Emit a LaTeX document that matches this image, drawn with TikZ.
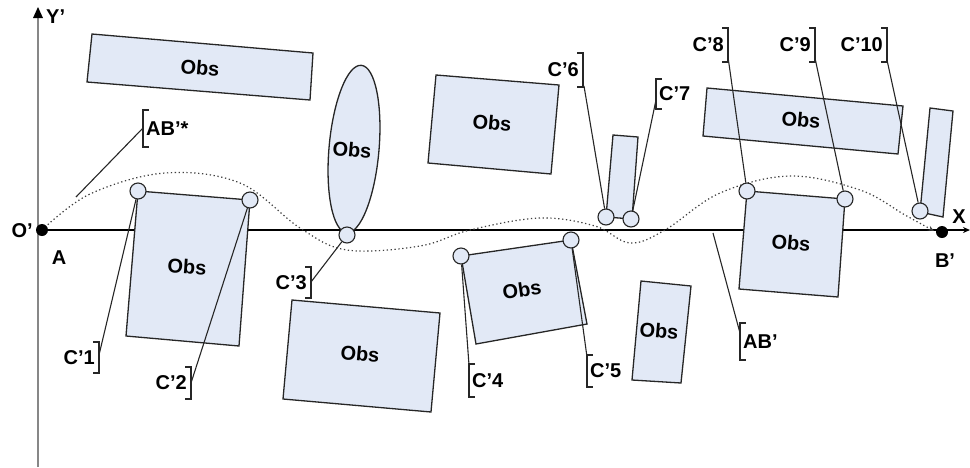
\documentclass[tikz,border=0pt]{standalone}
\usepackage{fontspec}
\setmainfont{Liberation Sans}
\usetikzlibrary{arrows.meta}
\definecolor{obsfill}{RGB}{226,233,246}
\definecolor{axisgray}{RGB}{135,135,135}

\begin{document}
\begin{tikzpicture}[x=1pt,y=-1pt,>=Stealth,
    obs/.style={draw=black!85,fill=obsfill,line width=1.3pt},
    obstxt/.style={font=\bfseries\fontsize{20}{20}\selectfont,inner sep=0pt},
    lbl/.style={font=\bfseries\fontsize{20}{20}\selectfont,inner sep=1pt},
    pt/.style={circle,draw=black!85,fill=obsfill,line width=1.1pt,minimum size=16pt,inner sep=0pt},
    lead/.style={line width=1.1pt,black!85}]
    \useasboundingbox (0,0) rectangle (970,467);

    % axes
    \draw[axisgray,line width=2pt] (38,467) -- (38,14);
    \fill[black] (33,18) -- (38,7) -- (43,18) -- cycle;
    \node[lbl,right] (ylab) at (45,17) {Y’};
    \draw[line width=1.3pt,-{Stealth[length=7pt,width=6pt]}] (42,230) -- (970,230);
    \node[lbl] (xlab) at (959,217) {X};

    % obstacles
    \draw[obs] (92,34) -- (313,53) -- (310,100) -- (87,82) -- cycle;
    \node[obstxt,rotate=-5] (obs1) at (200,68) {Obs};
    \draw[obs] (138,191) -- (250,200) -- (239,346) -- (126,336) -- cycle;
    \node[obstxt,rotate=-4] (obs2) at (187,267) {Obs};
    \draw[obs,rotate around={-5:(354,149)}] (354,149) ellipse (25 and 84);
    \node[obstxt,rotate=-5] (obs3) at (352,150) {Obs};
    \draw[obs] (436,75) -- (559,85) -- (551,174) -- (428,163) -- cycle;
    \node[obstxt,rotate=-5] (obs4) at (492,123) {Obs};
    \draw[obs] (292,300) -- (440,313) -- (431,412) -- (283,399) -- cycle;
    \node[obstxt,rotate=-5] (obs5) at (360,354) {Obs};
    \draw[obs] (461,256) -- (571,240) -- (587,324) -- (476,344) -- cycle;
    \node[obstxt,rotate=8] (obs6) at (522,290) {Obs};
    \draw[obs] (641,281) -- (691,286) -- (681,383) -- (632,380) -- cycle;
    \node[obstxt,rotate=-5] (obs7) at (659,331) {Obs};
    \draw[obs] (613,135) -- (638,137) -- (632,219) -- (606,217) -- cycle;
    \draw[obs] (707,88) -- (903,106) -- (898,154) -- (703,136) -- cycle;
    \node[obstxt,rotate=-5] (obs9) at (801,120) {Obs};
    \draw[obs] (930,108) -- (953,111) -- (943,217) -- (920,212) -- cycle;
    \draw[obs] (747,191) -- (845,199) -- (838,297) -- (739,289) -- cycle;
    \node[obstxt,rotate=-5] (obs11) at (791,243) {Obs};

    % path through the points
    \draw[line width=1.2pt,black!75,dash pattern=on 1.3pt off 2.6pt,-{Stealth[length=6pt,width=5pt]}]
        plot[smooth,tension=0.6] coordinates {(42,230) (90,194) (165,173) (240,183) (300,228)
        (347,250) (420,246) (470,230) (540,218) (595,226) (630,243) (665,230) (720,193)
        (790,176) (860,190) (905,215) (934,231)};

    % end points
    \node[circle,fill=black,minimum size=12pt,inner sep=0pt] (ptA) at (42,230) {};
    \node[circle,fill=black,minimum size=12pt,inner sep=0pt] (ptB) at (942,232) {};
    \node[lbl,left] (olab) at (34,231) {O’};
    \node[lbl] (alab) at (59,258) {A};
    \node[lbl] (blab) at (945,261) {B’};

    % contact points
    \foreach \pt/\nm in {(138,191)/c1,(250,200)/c2,(347,235)/c3,(461,256)/c4,(571,240)/c5,
        (606,217)/c6,(631,219)/c7,(747,191)/c8,(845,199)/c9,(920,211)/c10}
        \node[pt] (\nm) at \pt {};

    % brackets: ] with label on the left
    \foreach \x/\ya/\yb/\txt/\nm in {99/342/373/C’1/l1,191/367/399/C’2/l2,311/267/298/C’3/l3,
        583/53/87/C’6/l6,728/28/62/C’8/l8,815/28/62/C’9/l9,887/28/62/C’10/l10}
    {
        \draw[lead] (\x-6,\ya) -- (\x,\ya) -- (\x,\yb) -- (\x-6,\yb);
        \node[lbl,left] (\nm) at (\x-3,{(\ya+\yb)/2}) {\txt};
    }
    % brackets: [ with label on the right
    \foreach \x/\ya/\yb/\txt/\nm in {143/110/147/AB’*/lab1,469/364/397/C’4/l4,587/355/387/C’5/l5,
        656/79/109/C’7/l7,740/323/360/AB’/lab2}
    {
        \draw[lead] (\x+6,\ya) -- (\x,\ya) -- (\x,\yb) -- (\x+6,\yb);
        \node[lbl,right] (\nm) at (\x+2,{(\ya+\yb)/2}) {\txt};
    }

    % leader ends
    \coordinate (e1) at (99,355);
    \coordinate (e2) at (191,383);
    \coordinate (e3) at (311,282);
    \coordinate (e4) at (469,365);
    \coordinate (e5) at (587,357);
    \coordinate (e6) at (584,86);
    \coordinate (e7) at (656,100);
    \coordinate (e8) at (728,57);
    \coordinate (e9) at (815,58);
    \coordinate (e10) at (887,60);
    \coordinate (ea) at (143,128);
    \coordinate (eb) at (740,333);
    \coordinate (sa) at (76,197);
    \coordinate (sb) at (713,233);

    \foreach \i in {1,...,10}
        \draw[lead] (c\i) -- (e\i);
    \draw[lead] (sa) -- (ea);
    \draw[lead] (sb) -- (eb);
\end{tikzpicture}
\end{document}
